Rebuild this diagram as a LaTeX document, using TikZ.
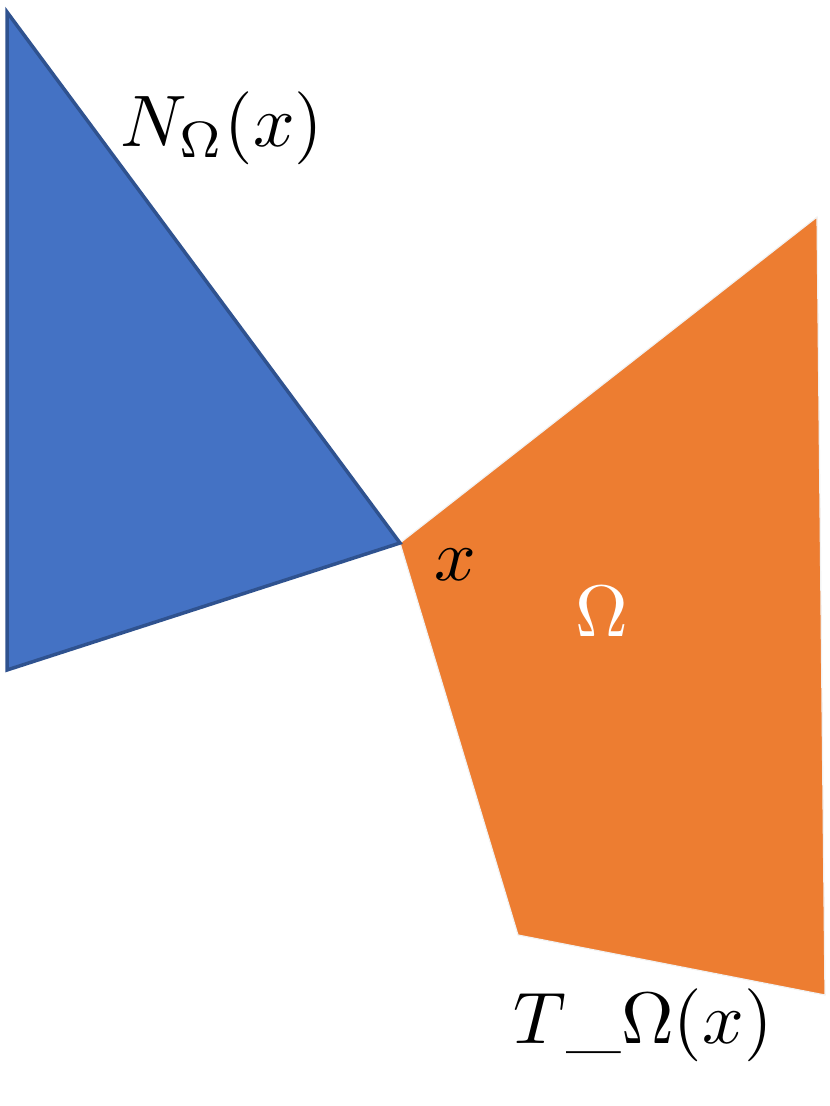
\documentclass[tikz,border=0pt]{standalone}
\usepackage{amsmath,amssymb}
\usetikzlibrary{calc, positioning}
\definecolor{coneblue}{HTML}{4472C4}
\definecolor{coneedge}{HTML}{2F528F}
\definecolor{setorange}{HTML}{ED7D31}
\newcommand{\bigmath}[1]{\scalebox{7.3}{$#1$}}
\tikzstyle{Big}=[inner sep=0pt]
\tikzstyle{Cone}=[fill=coneblue, draw=coneedge, line width=3.5pt, line join=miter]
\tikzstyle{Set}=[fill=setorange, draw=white!90!gray, line width=1.2pt]

\begin{document}
\begin{tikzpicture}[x=1pt, y=-1pt]
		\useasboundingbox (0,0) rectangle (830,1106);
		\coordinate (x0) at (400,543);
		\coordinate (n1) at (7,12);
		\coordinate (n2) at (7,670);
		\coordinate (t1) at (817,217);
		\coordinate (t2) at (825,995);
		\coordinate (t3) at (518,935);
		\filldraw[Set] (x0) -- (t1) -- (t2) -- (t3) -- cycle;
		\filldraw[Cone] (n1) -- (x0) -- (n2) -- cycle;
		\node[Big] (N) at (222,128) {\bigmath{N_{\Omega}(x)}};
		\node[Big] (x) at (455,565) {\bigmath{x}};
		\node[Big, text=white] (O) at (602,612) {\bigmath{\Omega}};
		\node[Big] (T) at (643,1025) {\bigmath{T\_\Omega(x)}};
		\end{tikzpicture}
\end{document}
